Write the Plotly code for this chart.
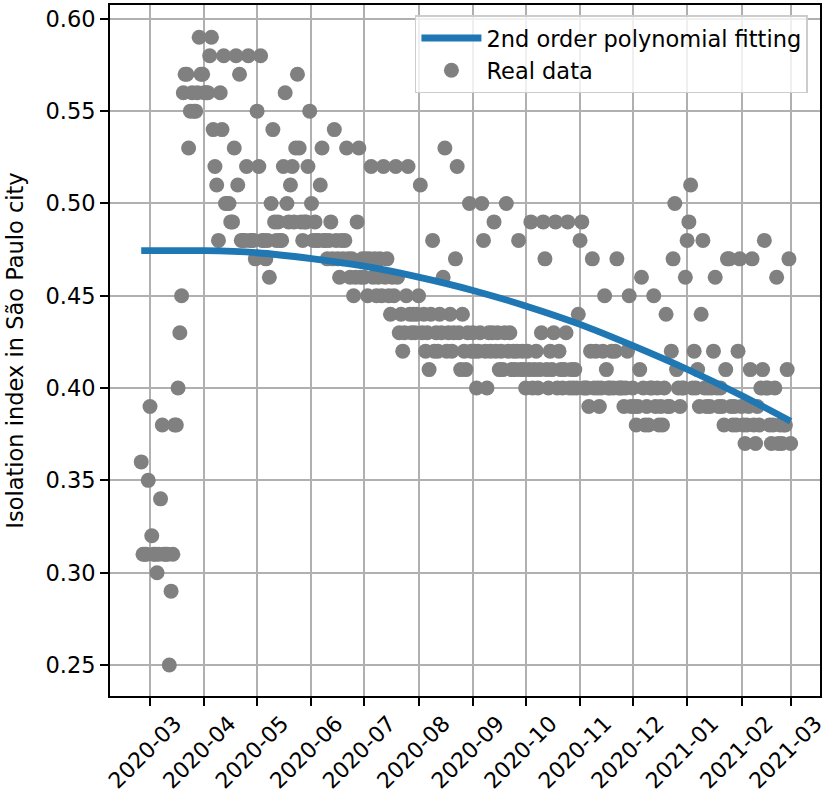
import numpy as np
import pandas as pd
import plotly.graph_objects as go

# ---------------- data (daily isolation index, São Paulo city) ----------------
start_date = "2020-02-25"
isolation = [
    0.36, 0.31, 0.31, 0.31, 0.35,
    0.39, 0.32, 0.31, 0.31, 0.30, 0.31, 0.34,
    0.38, 0.31, 0.31, 0.31, 0.25, 0.29, 0.31,
    0.38, 0.38, 0.40, 0.43, 0.45, 0.56, 0.57,
    0.57, 0.53, 0.55, 0.56, 0.55, 0.55, 0.56,
    0.59, 0.57, 0.57, 0.56, 0.56, 0.56, 0.58,
    0.59, 0.54, 0.52, 0.51, 0.48, 0.56, 0.54,
    0.58, 0.50, 0.50, 0.50, 0.49, 0.49, 0.53,
    0.58, 0.51, 0.57, 0.48, 0.48, 0.48, 0.52,
    0.58, 0.48, 0.48, 0.48, 0.47, 0.55, 0.52,
    0.58, 0.48, 0.48, 0.47, 0.48, 0.46, 0.50,
    0.54, 0.49, 0.48, 0.49, 0.48, 0.48, 0.52,
    0.56, 0.50, 0.49, 0.51, 0.52, 0.49, 0.53,
    0.57, 0.53, 0.49, 0.48, 0.49, 0.49, 0.52,
    0.55, 0.50, 0.48, 0.49, 0.48, 0.48, 0.51,
    0.53, 0.48, 0.48, 0.47, 0.48, 0.49, 0.47,
    0.54, 0.48, 0.47, 0.46, 0.48, 0.47, 0.48,
    0.53, 0.47, 0.46, 0.47, 0.45, 0.46, 0.49,
    0.53, 0.46, 0.47, 0.46, 0.47, 0.45, 0.47,
    0.52, 0.46, 0.47, 0.45, 0.46, 0.47, 0.45,
    0.52, 0.46, 0.47, 0.45, 0.44, 0.46, 0.45,
    0.52, 0.46, 0.43, 0.44, 0.42, 0.43, 0.45,
    0.52, 0.44, 0.43, 0.44, 0.43, 0.44, 0.45,
    0.51, 0.43, 0.44, 0.42, 0.43, 0.41, 0.44,
    0.48, 0.42, 0.43, 0.42, 0.44, 0.43, 0.46,
    0.53, 0.42, 0.43, 0.44, 0.42, 0.43, 0.47,
    0.52, 0.43, 0.41, 0.44, 0.42, 0.41, 0.43,
    0.50, 0.42, 0.43, 0.42, 0.40, 0.42, 0.43,
    0.50, 0.48, 0.42, 0.40, 0.43, 0.42, 0.43,
    0.49, 0.42, 0.43, 0.41, 0.42, 0.41, 0.43,
    0.50, 0.42, 0.43, 0.41, 0.42, 0.41, 0.42,
    0.48, 0.41, 0.42, 0.41, 0.40, 0.42, 0.41,
    0.49, 0.40, 0.41, 0.42, 0.40, 0.41, 0.43,
    0.49, 0.47, 0.41, 0.40, 0.42, 0.41, 0.43,
    0.49, 0.40, 0.42, 0.41, 0.40, 0.41, 0.43,
    0.49, 0.40, 0.41, 0.40, 0.41, 0.40, 0.44,
    0.48, 0.49, 0.40, 0.40, 0.40, 0.39, 0.42,
    0.47, 0.40, 0.42, 0.40, 0.39, 0.40, 0.42,
    0.45, 0.41, 0.40, 0.40, 0.42, 0.40, 0.42,
    0.47, 0.40, 0.40, 0.40, 0.39, 0.40, 0.42,
    0.45, 0.39, 0.40, 0.39, 0.38, 0.39, 0.41,
    0.46, 0.40, 0.38, 0.39, 0.38, 0.40, 0.40,
    0.45, 0.39, 0.40, 0.38, 0.39, 0.38, 0.40,
    0.44, 0.39, 0.39, 0.42, 0.47, 0.50, 0.41,
    0.40, 0.39, 0.40, 0.40, 0.46, 0.48, 0.49,
    0.51, 0.40, 0.42, 0.40, 0.41, 0.39, 0.44,
    0.48, 0.40, 0.39, 0.40, 0.39, 0.40, 0.42,
    0.46, 0.40, 0.39, 0.40, 0.39, 0.38, 0.41,
    0.47, 0.47, 0.39, 0.38, 0.39, 0.38, 0.42,
    0.47, 0.39, 0.38, 0.37, 0.38, 0.39, 0.41,
    0.47, 0.38, 0.37, 0.39, 0.38, 0.40, 0.41,
    0.48, 0.40, 0.40, 0.38, 0.37, 0.38, 0.40,
    0.46, 0.37, 0.38, 0.37, 0.38, 0.38, 0.41,
    0.47, 0.37,
]
dates = pd.date_range(start_date, periods=len(isolation), freq="D")

# 2nd order polynomial fitting curve
fit_dates = ["2020-02-25", "2020-04-01", "2020-05-01", "2020-06-01", "2020-07-01",
             "2020-08-01", "2020-09-01", "2020-10-01", "2020-11-01", "2020-12-01",
             "2021-01-01", "2021-02-01", "2021-03-01"]
fit_values = [0.4744, 0.4744, 0.4733, 0.4701, 0.4660,
              0.4601, 0.4529, 0.4445, 0.4345, 0.4230,
              0.4102, 0.3960, 0.3820]

y_ticks = [0.25, 0.30, 0.35, 0.40, 0.45, 0.50, 0.55, 0.60]
y_tick_text = ["0.25", "0.30", "0.35", "0.40", "0.45", "0.50", "0.55", "0.60"]
x_range = ["2020-02-07 05:00", "2021-03-17 17:00"]
y_range = [0.2332, 0.6075]

FONT = "DejaVu Sans"
FS = 22.5

fig = go.Figure()
fig.add_trace(go.Scatter(
    x=dates, y=isolation, mode="markers", name="Real data",
    marker=dict(color="#808080", size=15, line=dict(width=0)),
    legendrank=2,
))
fig.add_trace(go.Scatter(
    x=fit_dates, y=fit_values, mode="lines", name="2nd order polynomial fitting",
    line=dict(color="#1f77b4", width=6.8, shape="spline", smoothing=1.0),
    legendrank=1,
))

axis_common = dict(
    showline=True, linecolor="black", linewidth=1.8, mirror=True,
    showgrid=True, gridcolor="#b0b0b0", gridwidth=1.8,
    ticks="outside", ticklen=8, tickwidth=1.8, tickcolor="black",
    zeroline=False,
)

fig.update_xaxes(
    **axis_common,
    tickfont=dict(family=FONT, size=22, color="black"),
    type="date", range=x_range,
    tickmode="linear", tick0="2020-03-01", dtick="M1",
    tickformat="%Y-%m", tickangle=-45, ticklabelshift=25,
    ticklabelstandoff=-4, ticklabeloverflow="allow",
)
fig.update_yaxes(
    **axis_common,
    tickfont=dict(family=FONT, size=FS, color="black"),
    range=y_range, tickmode="array", tickvals=y_ticks, ticktext=y_tick_text,
    title=dict(text="Isolation index in São Paulo city",
               font=dict(family=FONT, size=FS, color="black"), standoff=16),
)

fig.update_layout(
    width=828, height=798,
    margin=dict(l=110, r=8, t=5, b=102, autoexpand=False),
    paper_bgcolor="white", plot_bgcolor="white",
    font=dict(family=FONT, size=FS, color="black"),
    showlegend=True,
    legend=dict(
        x=0.983, y=0.985, xanchor="right", yanchor="top",
        bgcolor="rgba(255,255,255,0.8)", bordercolor="#cccccc", borderwidth=1.5,
        font=dict(family=FONT, size=FS, color="black"),
        itemwidth=60, tracegroupgap=4,
    ),
)

fig.write_html("out.html")
